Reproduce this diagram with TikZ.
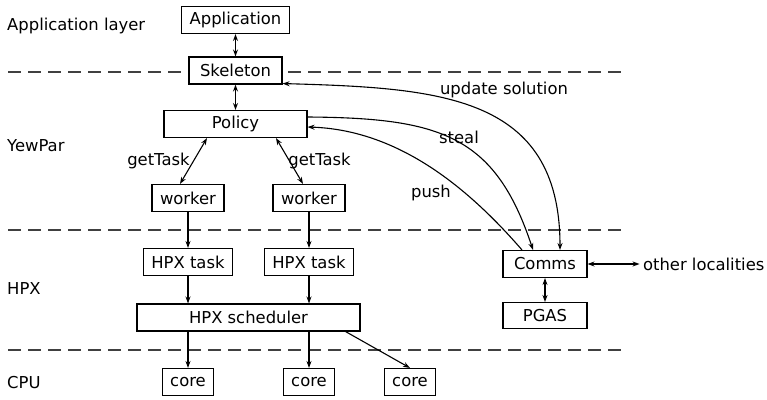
\documentclass[tikz,border=0pt]{standalone}
\usepackage{fontspec}
\setmainfont{DejaVu Sans}
\usetikzlibrary{arrows.meta,positioning}

\begin{document}
\begin{tikzpicture}[
        x=1pt, y=-1pt,
        font=\fontsize{16.4}{19.7}\selectfont,
        box/.style={
            rectangle, draw=black, fill=white, line width=1.1pt,
            minimum height=27pt, inner xsep=8pt, inner ysep=2pt
        },
        layer/.style={anchor=west},
        arr/.style={-{Stealth[length=7pt,width=5pt]}, line width=1.1pt},
        darr/.style={{Stealth[length=7pt,width=5pt]}-{Stealth[length=7pt,width=5pt]}, line width=1.1pt},
        sep/.style={dash pattern=on 13pt off 7pt, line width=1.1pt, draw=black!75}
    ]
    \useasboundingbox (0,0) rectangle (767,399);

    % Layer separators
    \draw[sep] (8,72) -- (625,72);
    \draw[sep] (8,230) -- (625,230);
    \draw[sep] (8,350) -- (625,350);

    % Layer names
    \node[layer] (lapp) at (3.7,26) {Application layer};
    \node[layer] (lyew) at (3.7,146) {YewPar};
    \node[layer] (lhpx) at (3.7,289) {HPX};
    \node[layer] (lcpu) at (3.7,383) {CPU};

    % Boxes
    \node[box] (app) at (235.5,20) {Application};
    \node[box, minimum width=93pt] (skel) at (235.5,70.5) {Skeleton};
    \node[box, minimum width=143pt] (policy) at (235.5,124) {Policy};
    \node[box] (w1) at (188,198) {worker};
    \node[box] (w2) at (309,198) {worker};
    \node[box] (t1) at (188,262) {HPX task};
    \node[box] (t2) at (309,262) {HPX task};
    \node[box, minimum width=223pt] (sched) at (248.5,317.5) {HPX scheduler};
    \node[box] (c1) at (188,382) {core};
    \node[box] (c2) at (309,382) {core};
    \node[box] (c3) at (410,382) {core};
    \node[box, minimum width=84pt] (comms) at (545,264) {Comms};
    \node[box, minimum width=84pt, minimum height=26pt, below=24pt of comms] (pgas) {PGAS};
    \node[right=52pt of comms] (other) {other localities};

    % Arrows: application side
    \draw[darr] (app) -- (skel);
    \draw[darr] (skel) -- (policy);
    \draw[darr] ([xshift=-28.5pt]policy.south) -- node[left] {getTask} ([xshift=-8pt]w1.north);
    \draw[darr] ([xshift=40.5pt]policy.south) -- node[right, xshift=-5pt] {getTask} ([xshift=-6pt]w2.north);

    % Arrows: HPX side
    \draw[arr] (w1) -- (t1);
    \draw[arr] (w2) -- (t2);
    \draw[arr] (t1) -- (sched.north -| t1);
    \draw[arr] (t2) -- (sched.north -| t2);
    \draw[arr] (sched.south -| c1) -- (c1);
    \draw[arr] (sched.south -| c2) -- (c2);
    \draw[arr] ([xshift=-15pt]sched.south east) -- (c3.north);

    % Arrows: communication
    \draw[darr] ([yshift=1pt]skel.south east) .. controls (440,88) and (560,95) .. ([xshift=15pt]comms.north);
    \draw[arr] ([yshift=7pt]policy.east) .. controls (440,118) and (495,135) .. ([xshift=-12pt]comms.north);
    \draw[arr] ([xshift=-23pt]comms.north) .. controls (470,190) and (400,130) .. ([yshift=-3pt]policy.east);
    \draw[darr] (comms) -- (pgas);
    \draw[darr] (comms) -- (other);

    % Curve labels
    \node (lupd) at (504,90) {update solution};
    \node (lsteal) at (459,137) {steal};
    \node (lpush) at (431,193) {push};
\end{tikzpicture}
\end{document}
